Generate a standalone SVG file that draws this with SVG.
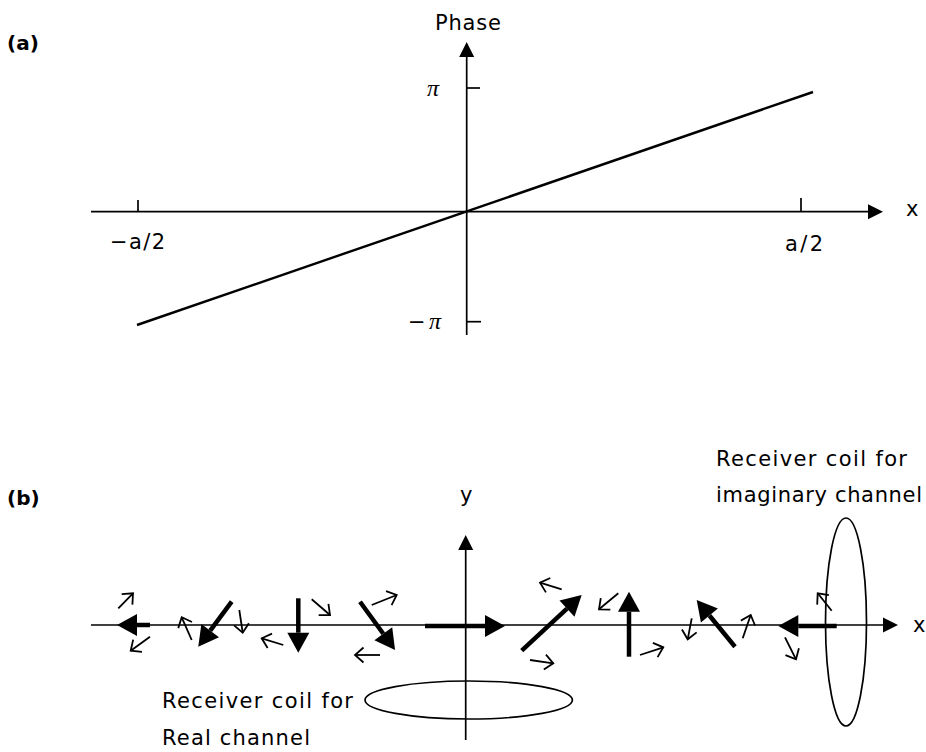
<svg xmlns="http://www.w3.org/2000/svg" width="926" height="752" viewBox="0 0 926 752">
<style>
  .ax { stroke:#000; stroke-width:1.7; fill:none; }
  .tk { stroke:#000; stroke-width:1.7; fill:none; }
  .plot { stroke:#000; stroke-width:2.4; fill:none; }
  .big { stroke:#000; stroke-width:4.5; fill:none; marker-end:url(#solid); }
  .small { stroke:#000; stroke-width:1.8; fill:none; marker-end:url(#open); }
  .coil { stroke:#000; stroke-width:1.7; fill:none; }
  text { font-family:"DejaVu Sans", "Liberation Sans", Arial, sans-serif; font-size:21px; fill:#000; }
  .lbl { font-weight:bold; font-size:20px; }
  .pi { font-family:"Liberation Serif", "Times New Roman", serif; font-style:italic; font-size:24px; }
</style>
<defs>
  <marker id="axhead" markerUnits="userSpaceOnUse" viewBox="0 -8 16 16" refX="0" refY="0" markerWidth="16" markerHeight="16" orient="auto" overflow="visible">
    <path d="M0,-7.5 L15,0 L0,7.5 Z" fill="#000"/>
  </marker>
  <marker id="solid" markerUnits="userSpaceOnUse" viewBox="0 -12 21 24" refX="0" refY="0" markerWidth="21" markerHeight="24" orient="auto" overflow="visible">
    <path d="M0,-11 L20,0 L0,11 Z" fill="#000"/>
  </marker>
  <marker id="open" markerUnits="userSpaceOnUse" viewBox="-10 -10 12 20" refX="0" refY="0" markerWidth="12" markerHeight="20" orient="auto" overflow="visible">
    <path d="M-8.5,-7.5 L0,0 L-8.5,7.5" fill="none" stroke="#000" stroke-width="1.8"/>
  </marker>
</defs>

<!-- Panel (a) -->
<g id="panel-a-label"><text class="lbl" x="7" y="50">(a)</text></g>
<g id="phase-axis">
  <line class="ax" x1="466.7" y1="335" x2="466.7" y2="57" marker-end="url(#axhead)"/>
  <line class="tk" x1="466.7" y1="88" x2="480" y2="88"/>
  <line class="tk" x1="466.7" y1="321.7" x2="481" y2="321.7"/>
  <text x="435" y="30" textLength="66">Phase</text>
  <text class="pi" x="427" y="96">π</text>
  <text x="408" y="329">−<tspan class="pi" x="429">π</tspan></text>
</g>
<g id="x-axis-a">
  <line class="ax" x1="91" y1="211.7" x2="868" y2="211.7" marker-end="url(#axhead)"/>
  <line class="tk" x1="138" y1="200" x2="138" y2="211.7"/>
  <line class="tk" x1="801" y1="198" x2="801" y2="211.7"/>
  <text x="906" y="216">x</text>
  <text x="110" y="249" textLength="55">−a/2</text>
  <text x="785" y="251" textLength="38">a/2</text>
</g>
<g id="phase-line">
  <line class="plot" x1="137" y1="325" x2="813" y2="92"/>
</g>

<!-- Panel (b) -->
<g id="panel-b-label"><text class="lbl" x="7" y="505">(b)</text></g>
<g id="axes-b">
  <line class="ax" x1="465.7" y1="740" x2="465.7" y2="550" marker-end="url(#axhead)"/>
  <text x="460" y="502">y</text>
  <line class="ax" x1="91" y1="625" x2="883" y2="625" marker-end="url(#axhead)"/>
  <text x="913" y="632">x</text>
</g>

<g id="coil-real">
  <ellipse class="coil" cx="468.7" cy="700" rx="103.7" ry="19"/>
  <text x="162" y="708" textLength="191">Receiver coil for</text>
  <text x="162" y="745" textLength="148">Real channel</text>
</g>
<g id="coil-imaginary">
  <ellipse class="coil" cx="846" cy="622" rx="20.5" ry="104"/>
  <text x="716" y="466" textLength="191">Receiver coil for</text>
  <text x="716" y="502" textLength="206">imaginary channel</text>
</g>

<g id="connectors">
  <g id="magnetization-vectors">
    <line class="big" x1="150" y1="625" x2="137" y2="625"/>
    <line class="big" x1="231.7" y1="601.7" x2="210.2" y2="630.6"/>
    <line class="big" x1="298.3" y1="598.3" x2="298.3" y2="632.7"/>
    <line class="big" x1="360" y1="601.7" x2="383.3" y2="633.8"/>
    <line class="big" x1="425" y1="626" x2="485" y2="626"/>
    <line class="big" x1="521.7" y1="650.7" x2="567" y2="608.6"/>
    <line class="big" x1="629" y1="656.7" x2="629" y2="611.7"/>
    <line class="big" x1="735" y1="646.7" x2="709.4" y2="615.5"/>
    <line class="big" x1="836.7" y1="626" x2="798.3" y2="626"/>
  </g>
  <g id="small-vectors">
    <line class="small" x1="118.3" y1="608.3" x2="133" y2="593.3"/>
    <line class="small" x1="150" y1="636.7" x2="130.7" y2="650.7"/>
    <line class="small" x1="191.7" y1="640" x2="181.7" y2="617.3"/>
    <line class="small" x1="239.3" y1="610" x2="242.7" y2="632.7"/>
    <line class="small" x1="283.3" y1="645" x2="261.7" y2="638.3"/>
    <line class="small" x1="311.7" y1="599.3" x2="330" y2="615"/>
    <line class="small" x1="371.7" y1="605" x2="396.7" y2="595"/>
    <line class="small" x1="380" y1="655" x2="355" y2="655"/>
    <line class="small" x1="561.7" y1="589.3" x2="540" y2="582.7"/>
    <line class="small" x1="530" y1="660" x2="553.3" y2="663.3"/>
    <line class="small" x1="618.3" y1="593.3" x2="599" y2="609.3"/>
    <line class="small" x1="640" y1="655" x2="663.3" y2="647.3"/>
    <line class="small" x1="691.7" y1="618.3" x2="687.7" y2="639.3"/>
    <line class="small" x1="742.7" y1="638.3" x2="750.7" y2="615"/>
    <line class="small" x1="785" y1="637.3" x2="796" y2="659.3"/>
    <line class="small" x1="831.7" y1="610.7" x2="817.7" y2="593.3"/>
  </g>
</g>
</svg>
